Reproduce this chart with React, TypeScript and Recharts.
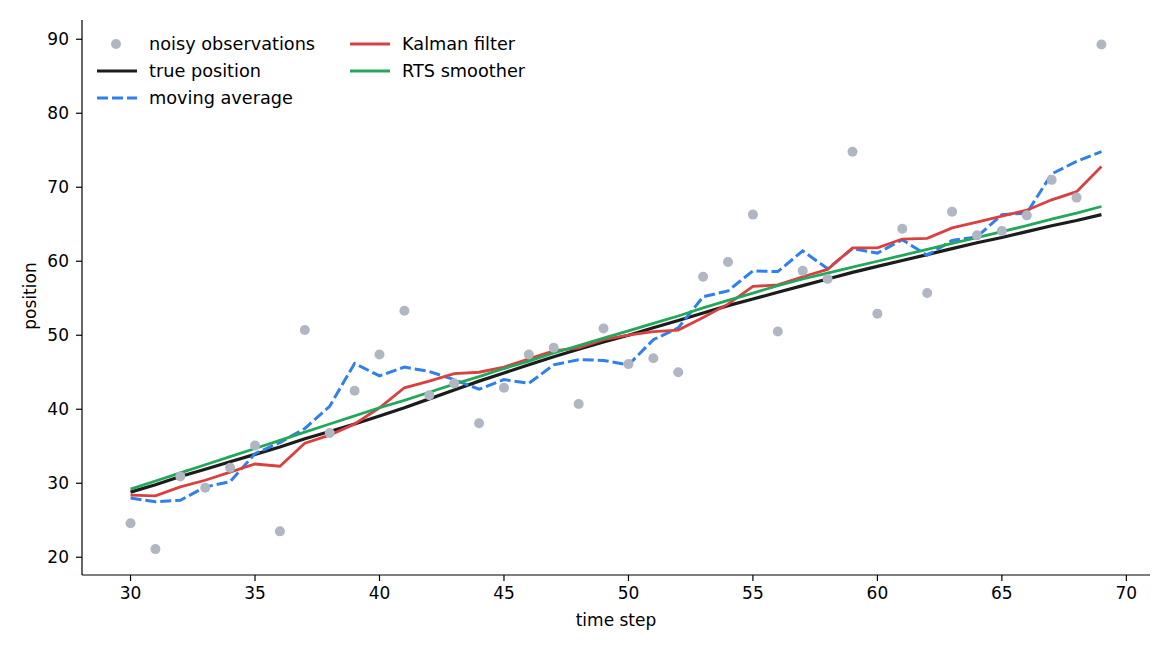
import React from 'react';
import { ComposedChart, Line, Scatter, XAxis, YAxis } from 'recharts';

const TIME_STEPS = [
  30, 31, 32, 33, 34, 35, 36, 37, 38, 39,
  40, 41, 42, 43, 44, 45, 46, 47, 48, 49,
  50, 51, 52, 53, 54, 55, 56, 57, 58, 59,
  60, 61, 62, 63, 64, 65, 66, 67, 68, 69,
];

const OBSERVATIONS = [
  24.6, 21.1, 30.9, 29.4, 32.1, 35.1, 23.5, 50.7, 36.8, 42.5,
  47.4, 53.3, 41.9, 43.5, 38.1, 42.9, 47.4, 48.3, 40.7, 50.9,
  46.1, 46.9, 45.0, 57.9, 59.9, 66.3, 50.5, 58.7, 57.6, 74.8,
  52.9, 64.4, 55.7, 66.7, 63.5, 64.1, 66.2, 71.0, 68.6, 89.3,
];

const TRUE_POSITION = [
  28.8, 29.8, 30.9, 31.9, 32.9, 33.9, 34.9, 36.0, 37.0, 38.0,
  39.1, 40.2, 41.4, 42.6, 43.8, 44.9, 46.0, 47.1, 48.1, 49.1,
  50.0, 51.0, 52.0, 53.0, 54.0, 54.9, 55.8, 56.7, 57.6, 58.5,
  59.3, 60.1, 60.9, 61.7, 62.5, 63.2, 64.0, 64.8, 65.5, 66.3,
];

const MOVING_AVERAGE = [
  28.0, 27.5, 27.7, 29.5, 30.2, 34.0, 35.5, 37.4, 40.4, 46.2,
  44.5, 45.7, 45.1, 44.0, 42.7, 44.0, 43.5, 46.0, 46.7, 46.6,
  46.0, 49.4, 51.0, 55.2, 56.0, 58.7, 58.6, 61.4, 59.0, 61.7,
  61.1, 62.9, 60.8, 62.8, 63.3, 66.3, 66.5, 71.8, 73.5, 74.8,
];

const KALMAN_FILTER = [
  28.4, 28.3, 29.5, 30.4, 31.5, 32.6, 32.3, 35.4, 36.5, 38.0,
  40.2, 42.9, 43.8, 44.8, 45.0, 45.7, 46.8, 47.9, 48.3, 49.4,
  50.0, 50.5, 50.7, 52.4, 54.2, 56.6, 56.8, 57.9, 58.9, 61.8,
  61.8, 63.0, 63.1, 64.5, 65.3, 66.1, 66.9, 68.3, 69.4, 72.8,
];

const RTS_SMOOTHER = [
  29.2, 30.3, 31.4, 32.5, 33.6, 34.7, 35.8, 36.9, 38.0, 39.1,
  40.2, 41.2, 42.3, 43.4, 44.4, 45.5, 46.5, 47.6, 48.6, 49.6,
  50.6, 51.6, 52.6, 53.7, 54.7, 55.7, 56.7, 57.6, 58.4, 59.2,
  60.0, 60.8, 61.6, 62.4, 63.2, 64.0, 64.8, 65.7, 66.5, 67.4,
];

const X_TICKS = [30, 35, 40, 45, 50, 55, 60, 65, 70];
const Y_TICKS = [20, 30, 40, 50, 60, 70, 80, 90];

const FONT = '"DejaVu Sans", sans-serif';

const COLORS = {
  obs: '#b1b6c3',
  truth: '#1c1c1c',
  ma: '#2f80ed',
  kf: '#d94141',
  rts: '#22a85a',
};

const LEGEND_ITEMS = [
  { label: 'noisy observations', kind: 'dot', color: COLORS.obs, col: 0, row: 0 },
  { label: 'true position', kind: 'line', color: COLORS.truth, col: 0, row: 1 },
  { label: 'moving average', kind: 'dash', color: COLORS.ma, col: 0, row: 2 },
  { label: 'Kalman filter', kind: 'line', color: COLORS.kf, col: 1, row: 0 },
  { label: 'RTS smoother', kind: 'line', color: COLORS.rts, col: 1, row: 1 },
];

const rows = TIME_STEPS.map((t, i) => ({
  t,
  obs: OBSERVATIONS[i],
  truth: TRUE_POSITION[i],
  ma: MOVING_AVERAGE[i],
  kf: KALMAN_FILTER[i],
  rts: RTS_SMOOTHER[i],
}));

const tickStyle = { fill: '#000', fontSize: 17, fontFamily: FONT };

const Dot = (props: any) => {
  if (props.cx == null || props.cy == null) return null;
  return <circle cx={props.cx} cy={props.cy} r={5} fill={COLORS.obs} />;
};

const LegendMarker = ({ kind, color }: { kind: string; color: string }) => (
  <svg width={42} height={14} style={{ display: 'block' }}>
    {kind === 'dot' && <circle cx={20} cy={7} r={5} fill={color} />}
    {kind === 'line' && <line x1={1} x2={41} y1={7} y2={7} stroke={color} strokeWidth={3} />}
    {kind === 'dash' && (
      <line x1={1} x2={41} y1={7} y2={7} stroke={color} strokeWidth={3} strokeDasharray="11 4" />
    )}
  </svg>
);

const ChartLegend = () => (
  <>
    {LEGEND_ITEMS.map((item) => (
      <div
        key={item.label}
        style={{
          position: 'absolute',
          left: item.col === 0 ? 96 : 349,
          top: 34 + item.row * 27,
          height: 20,
          display: 'flex',
          alignItems: 'center',
          fontFamily: FONT,
          fontSize: 17.7,
          whiteSpace: 'nowrap',
        }}
      >
        <LegendMarker kind={item.kind} color={item.color} />
        <span style={{ marginLeft: 11 }}>{item.label}</span>
      </div>
    ))}
  </>
);

export default function App() {
  return (
    <div style={{ position: 'absolute', left: 0, top: 0, width: 1170, height: 650, background: '#fff' }}>
      <ComposedChart
        width={1170}
        height={650}
        data={rows}
        margin={{ top: 20, right: 20, left: 0, bottom: 0 }}
      >
        <XAxis
          dataKey="t"
          type="number"
          domain={[28.05, 70.95]}
          ticks={X_TICKS}
          allowDataOverflow
          height={75}
          tick={tickStyle}
          tickSize={6}
          tickMargin={6}
          stroke="#000"
          strokeWidth={1.2}
        />
        <YAxis
          type="number"
          domain={[17.6, 92.6]}
          ticks={Y_TICKS}
          allowDataOverflow
          width={82}
          tick={tickStyle}
          tickSize={6}
          tickMargin={7}
          stroke="#000"
          strokeWidth={1.2}
        />
        <Scatter dataKey="obs" shape={Dot} isAnimationActive={false} />
        <Line
          type="linear"
          dataKey="truth"
          stroke={COLORS.truth}
          strokeWidth={3.2}
          dot={false}
          activeDot={false}
          isAnimationActive={false}
        />
        <Line
          type="linear"
          dataKey="ma"
          stroke={COLORS.ma}
          strokeWidth={3}
          strokeDasharray="11 4"
          dot={false}
          activeDot={false}
          isAnimationActive={false}
        />
        <Line
          type="linear"
          dataKey="kf"
          stroke={COLORS.kf}
          strokeWidth={2.8}
          dot={false}
          activeDot={false}
          isAnimationActive={false}
        />
        <Line
          type="linear"
          dataKey="rts"
          stroke={COLORS.rts}
          strokeWidth={2.8}
          dot={false}
          activeDot={false}
          isAnimationActive={false}
        />
      </ComposedChart>
      <ChartLegend />
      <div
        style={{
          position: 'absolute',
          left: 516,
          top: 610,
          width: 200,
          lineHeight: '20px',
          textAlign: 'center',
          fontFamily: FONT,
          fontSize: 17,
        }}
      >
        time step
      </div>
      <div
        style={{
          position: 'absolute',
          left: -70,
          top: 286,
          width: 200,
          lineHeight: '20px',
          textAlign: 'center',
          fontFamily: FONT,
          fontSize: 17,
          transform: 'rotate(-90deg)',
        }}
      >
        position
      </div>
    </div>
  );
}
